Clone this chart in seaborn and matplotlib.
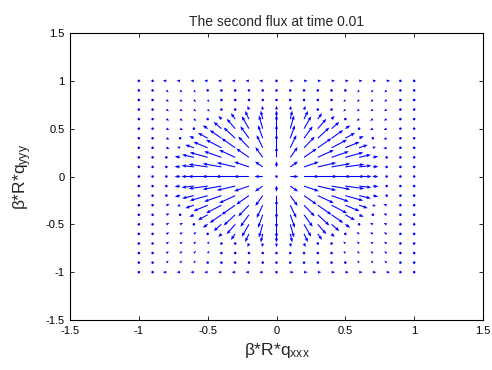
import numpy as np
import matplotlib
matplotlib.use("Agg")
import matplotlib.pyplot as plt
import seaborn as sns

# ---- data ----
title = "The second flux at time 0.01"
x_ticks = [-1.5, -1, -0.5, 0, 0.5, 1, 1.5]
y_ticks = [-1.5, -1, -0.5, 0, 0.5, 1, 1.5]
tick_labels = ["-1.5", "-1", "-0.5", "0", "0.5", "1", "1.5"]
grid_coords = [round(-1 + 0.1 * k, 1) for k in range(21)]

# magnitude of the flux in the first quadrant, rows y=0..1, columns x=0..1 (step 0.1)
# (field is mirror-symmetric; positive = outward, negative = inward)
mag_q = [
    [0.0, 0.06, 0.11, 0.14, 0.14, 0.14, 0.09, 0.04, 0.0, 0.0, 0.0],
    [0.06, 0.08, 0.12, 0.14, 0.14, 0.14, 0.09, 0.04, 0.0, 0.0, 0.0],
    [0.11, 0.12, 0.13, 0.14, 0.14, 0.14, 0.09, 0.04, 0.0, 0.0, 0.0],
    [0.14, 0.14, 0.14, 0.14, 0.14, 0.12, 0.07, 0.025, -0.026, 0.0, 0.0],
    [0.14, 0.14, 0.14, 0.14, 0.12, 0.09, 0.04, 0.0, -0.026, 0.0, 0.0],
    [0.14, 0.14, 0.14, 0.12, 0.09, 0.05, 0.0, -0.026, -0.026, 0.0, 0.0],
    [0.09, 0.09, 0.09, 0.07, 0.04, 0.0, -0.026, -0.026, -0.026, 0.0, 0.0],
    [0.04, 0.04, 0.04, 0.0, 0.0, -0.026, -0.026, -0.026, -0.026, 0.0, 0.0],
    [0.0, 0.0, 0.0, -0.026, -0.026, -0.026, -0.026, -0.026, -0.026, 0.0, 0.0],
    [0.0, -0.026, -0.026, -0.026, -0.026, -0.026, -0.026, -0.026, -0.026, 0.0, 0.0],
    [0.0, 0.026, 0.026, 0.026, 0.026, 0.026, 0.026, 0.026, 0.026, 0.0, 0.0],
]
# rows |y| = 1 carry a horizontal flux, everywhere else the flux is radial
horizontal_rows = [10]

# ---- build the quiver field ----
X, Y, U, V = [], [], [], []
for y in grid_coords:
    for x in grid_coords:
        j = int(round(abs(y) * 10))
        i = int(round(abs(x) * 10))
        m = mag_q[j][i]
        r = np.hypot(x, y)
        if j in horizontal_rows:
            dx, dy = np.sign(x), 0.0
        elif r > 0:
            dx, dy = x / r, y / r
        else:
            dx, dy = 0.0, 0.0
        X.append(x); Y.append(y); U.append(m * dx); V.append(m * dy)

sns.set_theme(style="white")
plt.rcParams["font.family"] = ["Liberation Sans", "DejaVu Sans"]
plt.rcParams["mathtext.fontset"] = "custom"
plt.rcParams["mathtext.rm"] = "Liberation Sans"
plt.rcParams["mathtext.it"] = "Liberation Sans"
plt.rcParams["axes.unicode_minus"] = False

fig = plt.figure(figsize=(4.92, 3.70), dpi=100)
ax = fig.add_axes([70 / 492, 1 - 320 / 370, 413 / 492, 287 / 370])

ax.quiver(X, Y, U, V, angles="xy", scale_units="xy", scale=1,
          color=(0, 0, 1), width=0.0026, headwidth=3.2, headlength=4.0,
          headaxislength=3.6, minlength=2.6, minshaft=1)

ax.set_xlim(-1.5, 1.5)
ax.set_ylim(-1.5, 1.5)
ax.set_xticks(x_ticks)
ax.set_yticks(y_ticks)
ax.set_xticklabels(tick_labels)
ax.set_yticklabels(tick_labels)
ax.tick_params(direction="in", length=3, width=0.6, labelsize=8,
               top=True, right=True, bottom=True, left=True, pad=4, colors="black")
for s in ax.spines.values():
    s.set_visible(True)
    s.set_color("black")
    s.set_linewidth(0.8)
ax.grid(False)
ax.set_facecolor("white")

ax.set_title(title, fontsize=10, pad=5)
ax.set_xlabel(r"β*R*q$_{\mathregular{xxx}}$", fontsize=12.5, labelpad=4)
ax.set_ylabel(r"β*R*q$_{\mathregular{yyy}}$", fontsize=12.5, labelpad=8)

fig.savefig("out.png", dpi=100, facecolor="white")
